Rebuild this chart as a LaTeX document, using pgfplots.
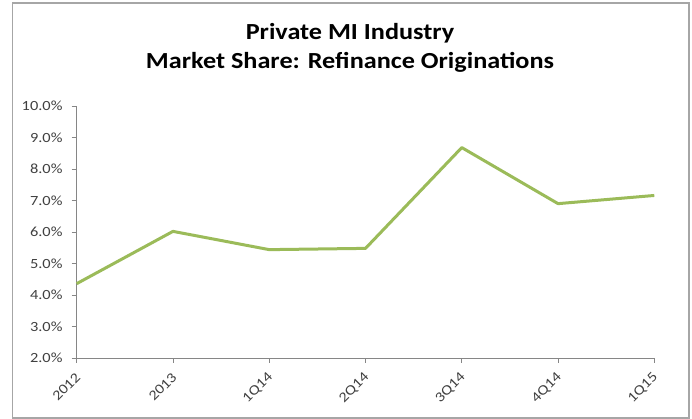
\documentclass[border=0pt]{standalone}
\usepackage{pgfplots}
\pgfplotsset{compat=1.18}
\usepackage{fontspec}
\setmainfont{Carlito}
\newfontfamily\titlefont[FakeStretch=1.14]{Carlito}
\newfontfamily\tickfont[FakeStretch=1.17]{Carlito}
\definecolor{axgray}{HTML}{868686}
\definecolor{frgray}{HTML}{A6A6A6}
\definecolor{linegreen}{HTML}{9BBB59}
\definecolor{txtgray}{HTML}{404040}
\begin{document}
\begin{tikzpicture}[x=1pt,y=1pt]
\useasboundingbox (0,0) rectangle (692,419);
\draw[frgray, line width=1.5pt] (12.3,1) rectangle (689,416);
\node[anchor=base, font=\titlefont\fontsize{23}{28}\selectfont\bfseries] at (350,379) {Private MI Industry};
\node[anchor=base, font=\titlefont\fontsize{23}{28}\selectfont\bfseries] at (350,350.5) {Market Share: Refinance Originations};
\begin{axis}[
  at={(76.7pt,61pt)}, anchor=south west,
  scale only axis, width=577.6pt, height=252pt,
  xmin=0, xmax=6, ymin=2, ymax=10,
  axis lines*=left,
  axis line style={axgray, line width=0.9pt},
  xtick={0,...,6},
  xticklabels={2012,2013,1Q14,2Q14,3Q14,4Q14,1Q15},
  ytick={2,3,...,10},
  yticklabel={\pgfmathprintnumber[fixed,fixed zerofill,precision=1]{\tick}\%},
  /pgf/number format/assume math mode=true,
  tick align=outside,
  major tick length=5pt,
  tick style={axgray, line width=0.9pt},
  tick label style={font=\tickfont\fontsize{14}{16}\selectfont, text=txtgray},
  xticklabel style={anchor=east, inner sep=0pt, yshift=-12pt, xshift=1.5pt, rotate=45},
  yticklabel style={inner sep=0pt, xshift=-9pt},
  clip=false,
]
\addplot[linegreen, line width=3pt, line join=round] coordinates {
  (0,4.36) (1,6.02) (2,5.44) (3,5.48) (4,8.68) (5,6.90) (6,7.16)
};
\end{axis}
\end{tikzpicture}
\end{document}
